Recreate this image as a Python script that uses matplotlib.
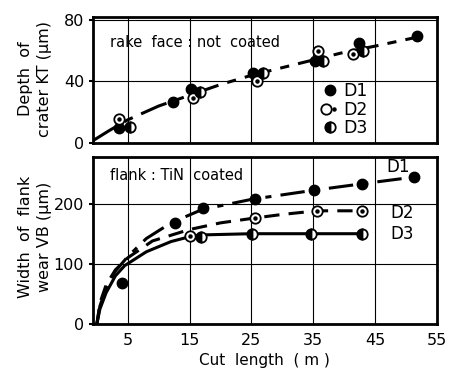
import matplotlib
matplotlib.use("Agg")
import matplotlib.pyplot as plt
from matplotlib.lines import Line2D
from matplotlib.legend_handler import HandlerTuple

plt.rcParams['font.family'] = ['DejaVu Sans']

# ---------------- data: rake face (crater depth KT) ----------------
kt_d1_x = [3.6, 12.3, 15.3, 25.3, 35.3, 42.4, 51.7]
kt_d1_y = [9.8, 26.5, 34.9, 45.3, 53.5, 65.3, 69.8]
kt_d2_x = [3.6, 15.5, 25.9, 35.8, 41.4]
kt_d2_y = [15.8, 29.1, 40.2, 59.8, 58.0]
kt_d3_x = [5.3, 16.7, 26.9, 36.6, 43.0]
kt_d3_y = [10.5, 33.1, 45.3, 53.5, 59.8]
kt_fit_x = [-0.6, 2, 5, 10, 15, 20, 25, 30, 35, 40, 45, 52]
kt_fit_y = [1.5, 8, 15, 24, 31, 38, 44, 49, 54, 59, 63, 69]

# ---------------- data: flank (wear VB) ----------------
vb_d1_x = [4.0, 12.6, 17.1, 25.6, 35.1, 42.8, 51.3]
vb_d1_y = [69, 168, 193, 208, 222, 232, 244]
vb_d2_x = [15.0, 25.5, 35.6, 42.8]
vb_d2_y = [147, 176, 188, 187]
vb_d3_x = [16.9, 25.1, 34.7, 42.8]
vb_d3_y = [145, 150, 150, 150]

vb_d1_fit_x = [0, 0.5, 1.5, 3, 5, 8, 12, 17, 25, 35, 43, 51.3]
vb_d1_fit_y = [0, 30, 60, 88, 112, 142, 168, 190, 207, 222, 233, 244]
vb_d2_fit_x = [0, 0.5, 1.5, 3, 5, 9, 15, 20, 25.5, 30, 35.6, 42.8]
vb_d2_fit_y = [0, 35, 65, 90, 110, 138, 157, 168, 176, 182, 188, 188]
vb_d3_fit_x = [0, 0.5, 1.5, 3, 4.5, 8, 12, 15, 17, 25, 35, 42.8]
vb_d3_fit_y = [0, 25, 52, 80, 97, 120, 137, 145, 148, 150, 150, 150]

x_ticks = [5, 15, 25, 35, 45, 55]
kt_ticks = [0, 40, 80]
vb_ticks = [0, 100, 200]
series_labels = ["D1", "D2", "D3"]

MS = 7.5
fig = plt.figure(figsize=(4.52, 3.76), dpi=100)
ax1 = fig.add_axes([0.206, 0.620, 0.761, 0.335])
ax2 = fig.add_axes([0.206, 0.138, 0.761, 0.444])


def d1(ax, x, y):
    ax.plot(x, y, 'o', ms=MS, mfc='black', mec='black', ls='none', zorder=5)


def d2(ax, x, y):
    ax.plot(x, y, 'o', ms=MS, mfc='white', mec='black', mew=1.3, ls='none', zorder=5)
    ax.plot(x, y, 'o', ms=2.2, mfc='black', mec='black', ls='none', zorder=6)


def d3(ax, x, y):
    ax.plot(x, y, 'o', ms=MS, fillstyle='left', mfc='black', mfcalt='white',
            mec='black', mew=1.3, ls='none', zorder=5)


for ax in (ax1, ax2):
    ax.set_xlim(-0.6, 55)
    for s in ax.spines.values():
        s.set_linewidth(2)
    ax.set_xticks([5, 15, 25, 35, 45])
    ax.grid(True, color='black', lw=0.8)
    ax.set_axisbelow(True)
    ax.tick_params(axis='x', length=0)
    ax.tick_params(axis='y', length=3, width=1.5, labelsize=11.5)

# top panel
ax1.set_ylim(0, 82)
ax1.set_yticks(kt_ticks)
ax1.set_xticklabels([])
ax1.plot(kt_fit_x, kt_fit_y, color='black', lw=2.2, dashes=(9, 3, 3, 3), zorder=3)
d1(ax1, kt_d1_x, kt_d1_y)
d2(ax1, kt_d2_x, kt_d2_y)
d3(ax1, kt_d3_x, kt_d3_y)
ax1.text(0.05, 0.80, "rake  face : not  coated", transform=ax1.transAxes,
         fontsize=10.5, va='center', ha='left')

h1 = Line2D([], [], marker='o', ms=MS, mfc='black', mec='black', ls='none')
h2a = Line2D([], [], marker='o', ms=MS, mfc='white', mec='black', mew=1.3, ls='none')
h2b = Line2D([], [], marker='o', ms=2.2, mfc='black', mec='black', ls='none')
h3 = Line2D([], [], marker='o', ms=MS, fillstyle='left', mfc='black', mfcalt='white',
            mec='black', mew=1.3, ls='none')
leg = ax1.legend([h1, (h2a, h2b), h3], series_labels,
                 handler_map={tuple: HandlerTuple(ndivide=None)},
                 loc='upper left', bbox_to_anchor=(0.64, 0.55), frameon=False,
                 handlelength=0.9, handletextpad=0.3, labelspacing=0.02,
                 borderpad=0, fontsize=12.5)
leg.set_zorder(7)

# bottom panel
ax2.set_ylim(0, 277)
ax2.set_yticks(vb_ticks)
ax2.set_xticklabels([])
ax2.plot(vb_d1_fit_x, vb_d1_fit_y, color='black', lw=2.2, dashes=(8, 3, 2, 3), zorder=3)
ax2.plot(vb_d2_fit_x, vb_d2_fit_y, color='black', lw=2.2, dashes=(5, 3), zorder=3)
ax2.plot(vb_d3_fit_x, vb_d3_fit_y, color='black', lw=2.2, zorder=3)
d1(ax2, vb_d1_x, vb_d1_y)
d2(ax2, vb_d2_x, vb_d2_y)
d3(ax2, vb_d3_x, vb_d3_y)
ax2.text(0.05, 0.89, "flank : TiN  coated", transform=ax2.transAxes,
         fontsize=10.5, va='center', ha='left')
ax2.text(46.8, 260, series_labels[0], fontsize=12, ha='left', va='center')
ax2.text(47.5, 185, series_labels[1], fontsize=12, ha='left', va='center')
ax2.text(47.5, 150, series_labels[2], fontsize=12, ha='left', va='center')

# x tick labels below bottom panel
for xt in x_ticks:
    ax2.text(xt, -14, str(xt), ha='center', va='top', fontsize=11.5,
             transform=ax2.transData)

fig.text(0.585, 0.042, "Cut  length  ( m )", ha='center', va='center', fontsize=11)
fig.text(0.078, 0.79, "Depth  of\ncrater KT (\u03bcm)", rotation=90, ha='center',
         va='center', fontsize=11.5, linespacing=1.3)
fig.text(0.078, 0.37, "Width  of  flank\nwear VB (\u03bcm)", rotation=90, ha='center',
         va='center', fontsize=11.5, linespacing=1.3)

fig.savefig("out.png", dpi=100)
